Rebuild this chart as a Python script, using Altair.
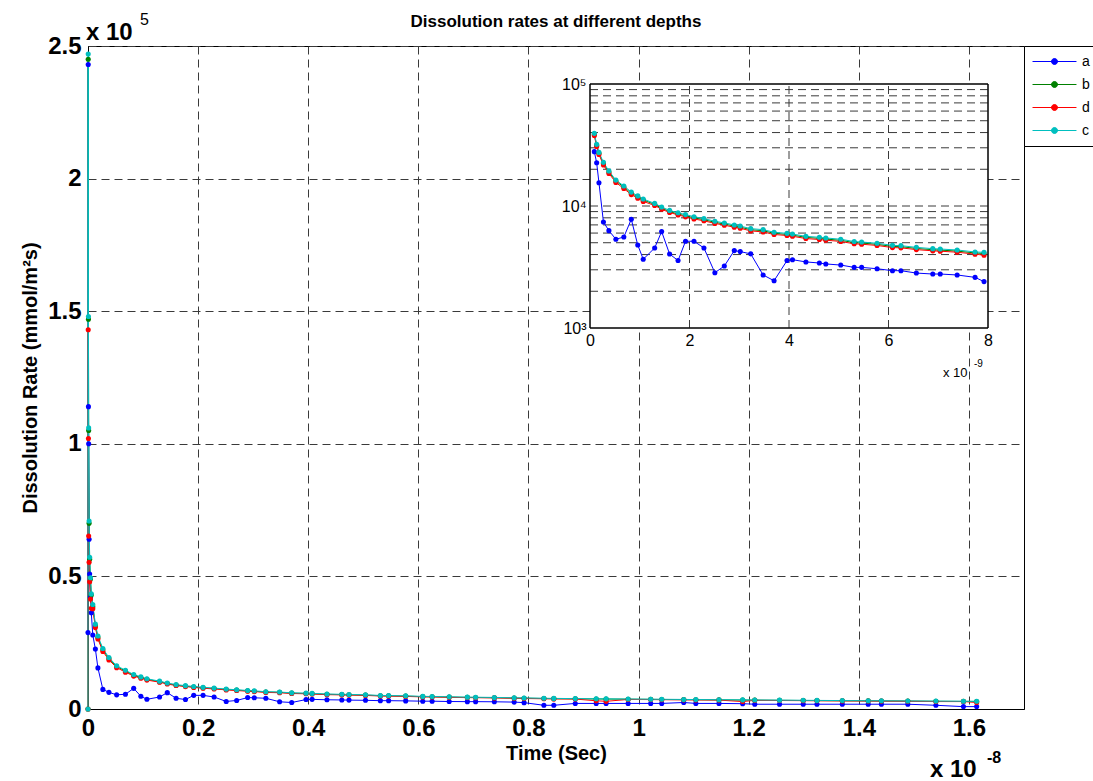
import altair as alt
import pandas as pd

# ---------------- data (time in ns, rate in mmol/m^2 s) ----------------
t_ns = [0, 0.004, 0.008, 0.012, 0.02, 0.03, 0.045, 0.06,
        0.087, 0.134, 0.18, 0.27, 0.38, 0.52, 0.68, 0.83, 0.96, 1.07,
        1.30, 1.44, 1.60, 1.77, 1.92, 2.09, 2.29, 2.51, 2.70, 2.90,
        3.02, 3.23, 3.48, 3.70, 3.96, 4.07, 4.34, 4.61, 4.74, 5.04,
        5.31, 5.46, 5.77, 6.08, 6.25, 6.56, 6.89, 7.04, 7.38, 7.74, 7.92,
        8.28, 8.46, 8.85, 9.23, 9.41, 9.81, 10.22, 10.42, 10.82, 11.04,
        11.46, 11.89, 12.11, 12.56, 12.99, 13.24, 13.70, 14.17, 14.41,
        14.89, 15.40, 15.90, 16.14]

rate_a = [28800, 243000, 114000, 100000, 64000, 50900, 42000, 36300,
          27900, 22600, 15500, 7400, 6280, 5340, 5570, 7780, 4790, 3660,
          4530, 6170, 4040, 3570, 5140, 5140, 4530, 2840, 3220, 4310,
          4230, 4050, 2720, 2440, 3570, 3630, 3480, 3410, 3350, 3280,
          3140, 3140, 3060, 2950, 2950, 2820, 2770, 2770, 2720, 2600, 2400,
          1400, 1400, 2100, 2100, 2100, 2100, 2100, 2100, 2450, 2100,
          2100, 2000, 1800, 1800, 1800, 1800, 1800, 1800, 1800,
          1800, 1400, 900, 900]

rate_b = [0, 245000, 147000, 105000, 70000, 56500, 49000, 43000,
          38600, 31400, 27000, 22300, 19000, 16000, 14300, 12700, 11900, 11200,
          10300, 9600, 9000, 8600, 8300, 8000, 7720, 7350, 7110, 6850,
          6710, 6390, 6270, 5970, 5850, 5770, 5530, 5430, 5360, 5230,
          5010, 4970, 4850, 4660, 4640, 4490, 4380, 4350, 4270, 4120, 4080,
          3950, 3900, 3840, 3780, 3750, 3690, 3630, 3590, 3530, 3500,
          3430, 3370, 3330, 3270, 3210, 3170, 3110, 3060, 3030,
          2970, 2910, 2860, 2840]

rate_d = [0, 143000, 102000, 65200, 55300, 48000, 41500, 38000,
          37800, 30700, 26400, 21700, 18500, 15600, 13900, 12400, 11600, 10900,
          10100, 9400, 8850, 8450, 8150, 7830, 7560, 7200, 6960, 6700,
          6570, 6250, 6130, 5840, 5730, 5650, 5410, 5310, 5250, 5120,
          4900, 4860, 4750, 4560, 4540, 4390, 4290, 4260, 4180, 4030, 3950,
          3850, 3800, 3750, 3100, 2900, 3600, 3550, 3500, 3450, 3420,
          3360, 2800, 3260, 3200, 3150, 3110, 3050, 3000, 2970,
          2920, 2800, 2800, 2450]

rate_c = [0, 247000, 148000, 106000, 70900, 57200, 49500, 43400,
          39400, 32000, 27500, 22800, 19400, 16300, 14600, 13000, 12100, 11400,
          10500, 9800, 9200, 8800, 8500, 8170, 7880, 7500, 7260, 6990,
          6850, 6520, 6400, 6090, 5970, 5890, 5640, 5540, 5470, 5340,
          5110, 5070, 4950, 4760, 4730, 4580, 4470, 4440, 4360, 4200, 4170,
          4050, 4000, 3920, 3850, 3820, 3760, 3700, 3660, 3600, 3570,
          3500, 3440, 3400, 3340, 3280, 3240, 3180, 3120, 3090,
          3030, 2970, 2920, 2900]

series_names = ["a", "b", "d", "c"]
series_colors = ["#0000ff", "#008000", "#ff0000", "#00bfbf"]

main_x_ticks = [0, 0.2, 0.4, 0.6, 0.8, 1.0, 1.2, 1.4, 1.6]
main_y_ticks = [0, 0.5, 1.0, 1.5, 2.0, 2.5]
inset_x_ticks = [0, 2, 4, 6, 8]
inset_y_ticks = [1000, 10000, 100000]
inset_hgrid = [2000, 3000, 4000, 5000, 6000, 7000, 8000, 9000, 10000,
               20000, 30000, 40000, 50000, 60000, 70000, 80000, 90000]
inset_vgrid = [2, 4, 6]

title_text = "Dissolution rates at different depths"
x_title = "Time (Sec)"
y_title = "Dissolution Rate (mmol/m\u00b2s)"

# ---------------- build table ----------------
rows = []
for name, vals in zip(series_names, [rate_a, rate_b, rate_d, rate_c]):
    for t, v in zip(t_ns, vals):
        rows.append({"series": name, "t": t, "rate": v})
df = pd.DataFrame(rows)

FONT = "Liberation Sans"
W, H = 936, 663
IX0, IX1 = 502, 900
IY0, IY1 = 282, 38
GRID = "#3a3a3a"
DASH = [8, 5]

LEG_PATH = ("M-3.14,0H3.14M-0.43,0A0.43,0.43,0,1,1,0.43,0"
            "A0.43,0.43,0,1,1,-0.43,0Z")

color = alt.Color(
    "series:N",
    scale=alt.Scale(domain=series_names, range=series_colors),
    legend=alt.Legend(
        title=None, orient="none", legendX=W, legendY=0,
        symbolType=LEG_PATH, symbolSize=196, symbolStrokeWidth=1,
        symbolOffset=15,
        labelFont=FONT, labelFontSize=14, labelColor="black",
        strokeColor="black", fillColor="white", padding=8,
        rowPadding=8, labelOffset=20,
    ),
)

# ---------------- main axes ----------------
main_base = alt.Chart(df).transform_calculate(
    tx="datum.t / 10", ry="datum.rate / 100000"
)
mx = alt.X(
    "tx:Q",
    scale=alt.Scale(domain=[0, 1.7], nice=False, zero=False),
    axis=alt.Axis(
        values=main_x_ticks, format=".1~f", title=x_title,
        grid=True, gridDash=DASH, gridColor=GRID, gridWidth=1,
        ticks=False, domainColor="black", labelFont=FONT, labelFontSize=24,
        labelFontWeight="bold", labelColor="black", labelPadding=7,
        labelFlush=False, titleFont=FONT, titleFontSize=20,
        titleFontWeight="bold", titleColor="black", titlePadding=3,
    ),
)
my = alt.Y(
    "ry:Q",
    scale=alt.Scale(domain=[0, 2.5], nice=False, zero=False),
    axis=alt.Axis(
        values=main_y_ticks, format=".1~f", title=y_title,
        grid=True, gridDash=DASH, gridColor=GRID, gridWidth=1,
        ticks=False, domainColor="black", labelFont=FONT, labelFontSize=24,
        labelFontWeight="bold", labelColor="black", labelPadding=7,
        labelFlush=False, titleFont=FONT, titleFontSize=20,
        titleFontWeight="bold", titleColor="black", titlePadding=7,
    ),
)
main_lines = main_base.mark_line(strokeWidth=1).encode(x=mx, y=my, color=color)
main_pts = main_base.mark_circle(size=26, opacity=1).encode(x=mx, y=my, color=color)

mult_main_y = ["x 10", "5"]
mult_main_x = ["x 10", "-8"]
mult_inset_x = ["x 10", "-9"]

def txt(label, x, y, size, weight="normal", align="left"):
    return alt.Chart(pd.DataFrame({"s": [label]})).mark_text(
        font=FONT, fontSize=size, fontWeight=weight, align=align,
        baseline="alphabetic", color="black",
    ).encode(text="s:N", x=alt.value(x), y=alt.value(y))

annot = [
    txt(title_text, W / 2, -19, 17, "bold", "center"),
    txt(mult_main_y[0], -2, -6, 24, "bold"),
    txt(mult_main_y[1], 52, -21, 16),
    txt(mult_main_x[0], 842, 731, 24, "bold"),
    txt(mult_main_x[1], 899, 717, 16, "bold"),
    txt(mult_inset_x[0], 855, 331, 13),
    txt(mult_inset_x[1], 886, 321, 10),
]

main_layer = alt.layer(main_lines, main_pts, *annot)

# ---------------- inset axes ----------------
ix_scale = alt.Scale(domain=[0, 8], range=[IX0, IX1], nice=False, zero=False)
iy_scale = alt.Scale(type="log", domain=[1000, 100000], range=[IY0, IY1], nice=False)
ix_axis = alt.Axis(
    orient="bottom", offset=-(H - IY0), values=inset_x_ticks, format="d",
    grid=False, ticks=False, domain=False, title=None, zindex=2,
    labelFont=FONT, labelFontSize=16, labelFontWeight="normal",
    labelColor="black", labelPadding=4, labelFlush=False,
)
iy_axis = alt.Axis(
    orient="left", offset=-IX0, values=inset_y_ticks,
    labelExpr="datum.value == 1000 ? '10\u00b3' : (datum.value == 10000 ? '10\u2074' : '10\u2075')",
    grid=False, ticks=False, domain=False, title=None, zindex=2,
    labelFont=FONT, labelFontSize=16, labelFontWeight="normal",
    labelColor="black", labelPadding=4, labelFlush=False,
)

one = pd.DataFrame({"k": [0]})
inset_bg = alt.Chart(one).mark_rect(fill="white", stroke="black", strokeWidth=1).encode(
    x=alt.XDatum(0, type="quantitative", scale=ix_scale, axis=ix_axis),
    x2=alt.X2Datum(8),
    y=alt.YDatum(1000, type="quantitative", scale=iy_scale, axis=iy_axis),
    y2=alt.Y2Datum(100000),
)
inset_h = alt.Chart(pd.DataFrame({"g": inset_hgrid})).mark_rule(
    strokeDash=DASH, color=GRID, strokeWidth=1
).encode(
    y=alt.Y("g:Q", scale=iy_scale, axis=iy_axis),
    x=alt.XDatum(0, type="quantitative", scale=ix_scale, axis=ix_axis),
    x2=alt.X2Datum(8),
)
inset_v = alt.Chart(pd.DataFrame({"g": inset_vgrid})).mark_rule(
    strokeDash=DASH, color=GRID, strokeWidth=1
).encode(
    x=alt.X("g:Q", scale=ix_scale, axis=ix_axis),
    y=alt.YDatum(1000, type="quantitative", scale=iy_scale, axis=iy_axis),
    y2=alt.Y2Datum(100000),
)
inset_base = alt.Chart(df).transform_filter("datum.t >= 0.08 && datum.t <= 8")
ix = alt.X("t:Q", scale=ix_scale, axis=ix_axis)
iy = alt.Y("rate:Q", scale=iy_scale, axis=iy_axis)
inset_lines = inset_base.mark_line(strokeWidth=1).encode(x=ix, y=iy, color=color)
inset_pts = inset_base.mark_circle(size=26, opacity=1).encode(x=ix, y=iy, color=color)
inset_border = alt.Chart(one).mark_rect(fillOpacity=0, stroke="black", strokeWidth=1).encode(
    x=alt.XDatum(0, type="quantitative", scale=ix_scale, axis=ix_axis),
    x2=alt.X2Datum(8),
    y=alt.YDatum(1000, type="quantitative", scale=iy_scale, axis=iy_axis),
    y2=alt.Y2Datum(100000),
)

inset_layer = alt.layer(inset_bg, inset_h, inset_v, inset_lines, inset_pts, inset_border)

chart = (
    alt.layer(main_layer, inset_layer)
    .resolve_scale(x="independent", y="independent", color="shared")
    .properties(
        width=W, height=H,
        padding={"left": 88, "top": 46, "right": 69, "bottom": 72},
        autosize=alt.AutoSizeParams(type="none"),
        background="white",
    )
    .configure_view(stroke="black", strokeWidth=1)
)

chart.save("out.html", embed_options={"renderer": "svg", "actions": False})
